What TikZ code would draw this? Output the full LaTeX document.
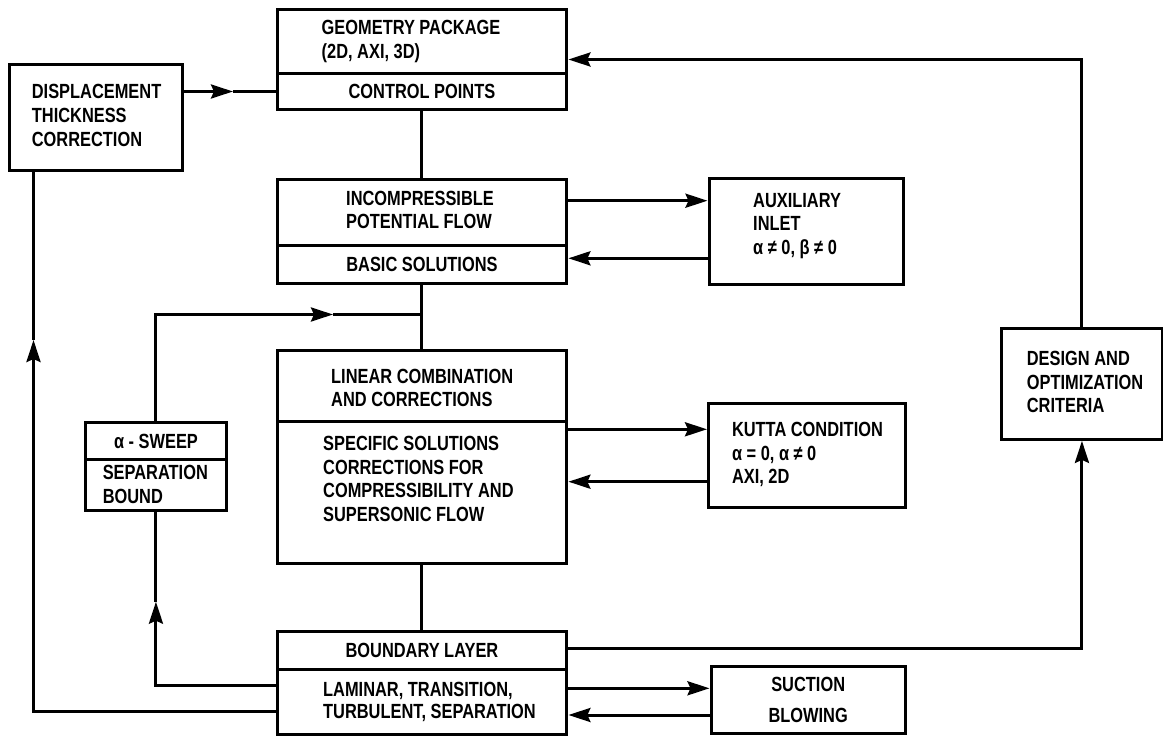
\documentclass[tikz,border=0pt]{standalone}
\usepackage{fontspec}
\newfontfamily\cond{Liberation Sans}[FakeStretch=0.80]
\usetikzlibrary{arrows.meta}
\begin{document}
\begin{tikzpicture}[x=1pt,y=-1pt,
  box/.style={draw, line width=3.4pt, inner sep=0pt, anchor=north west},
  conn/.style={line width=3pt},
  arr/.style={conn, -{Stealth[length=22pt,width=14pt,inset=3pt]}},
  txt/.style={font=\cond\bfseries\fontsize{20.5}{23.7}\selectfont, inner sep=0pt, align=left, anchor=west},
  ctxt/.style={font=\cond\bfseries\fontsize{20.5}{23.7}\selectfont, inner sep=0pt, align=center}]
\useasboundingbox[fill=white] (0,0) rectangle (1163,736);

% boxes
\node[box, minimum width=173pt, minimum height=106pt] (disp) at (8,63) {};
\node[box, minimum width=289.5pt, minimum height=64.5pt] (geomA) at (275.5,7.5) {};
\node[box, minimum width=289.5pt, minimum height=35.5pt] (geomB) at (275.5,72) {};
\node[box, minimum width=289.5pt, minimum height=66.5pt] (incA) at (275.5,177.5) {};
\node[box, minimum width=289.5pt, minimum height=38pt] (incB) at (275.5,244) {};
\node[box, minimum width=194pt, minimum height=106pt] (aux) at (707.5,177) {};
\node[box, minimum width=289.5pt, minimum height=71pt] (linA) at (275.5,349) {};
\node[box, minimum width=289.5pt, minimum height=141.5pt] (linB) at (275.5,420) {};
\node[box, minimum width=196.5pt, minimum height=104pt] (kutta) at (707,402) {};
\node[box, minimum width=161.5pt, minimum height=111pt] (design) at (999.5,326.5) {};
\node[box, minimum width=289.5pt, minimum height=38pt] (blA) at (275.5,630) {};
\node[box, minimum width=289.5pt, minimum height=65pt] (blB) at (275.5,668) {};
\node[box, minimum width=194pt, minimum height=66.5pt] (suction) at (709.5,665) {};
\node[box, minimum width=141.5pt, minimum height=36.5pt] (sweepA) at (83.5,421) {};
\node[box, minimum width=141.5pt, minimum height=51pt] (sweepB) at (83.5,457.5) {};

% texts
\node[txt] (tdisp) at (31.7,115.3) {DISPLACEMENT\\THICKNESS\\CORRECTION};
\node[txt] (tgeom) at (321.5,41.7) {GEOMETRY PACKAGE\\(2D, AXI, 3D)};
\node[ctxt] (tcp) at (geomB.center) {CONTROL POINTS};
\node[txt] (tinc) at (346,210) {INCOMPRESSIBLE\\POTENTIAL FLOW};
\node[ctxt] (tbs) at (incB.center) {BASIC SOLUTIONS};
\node[txt] (taux) at (753,226) {AUXILIARY\\INLET\\α ≠ 0, β ≠ 0};
\node[txt] (tlinA) at (331,388) {LINEAR COMBINATION\\AND CORRECTIONS};
\node[txt] (tlinB) at (323,479) {SPECIFIC SOLUTIONS\\CORRECTIONS FOR\\COMPRESSIBILITY AND\\SUPERSONIC FLOW};
\node[txt] (tkutta) at (731.8,454.7) {KUTTA CONDITION\\α = 0, α ≠ 0\\AXI, 2D};
\node[txt] (tdesign) at (1026.7,382) {DESIGN AND\\OPTIMIZATION\\CRITERIA};
\node[ctxt] (tblA) at (blA.center) {BOUNDARY LAYER};
\node[txt, font=\cond\bfseries\fontsize{20.5}{22}\selectfont] (tblB) at (323,701.7) {LAMINAR, TRANSITION,\\TURBULENT, SEPARATION};
\node[ctxt] (tsuc) at (suction.center) {SUCTION\\[8pt]BLOWING};
\node[ctxt] (tswA) at (sweepA.center) {α - SWEEP};
\node[txt] (tswB) at (102.6,484.7) {SEPARATION\\BOUND};

% helper coordinates
\coordinate (m1) at (233,91.5);
\coordinate (t1) at (design.north |- 0,59.5);
\coordinate (r1) at (0,200.7);
\coordinate (r2) at (0,258.3);
\coordinate (j1) at (geomB.south |- 0,314.5);
\coordinate (m2) at (333,314.5);
\coordinate (r3) at (0,429.3);
\coordinate (r4) at (0,481.7);
\coordinate (r5) at (0,648.3);
\coordinate (r6) at (0,688.3);
\coordinate (r7) at (0,715);
\coordinate (m3) at (sweepB.south |- 0,601.7);
\coordinate (l1) at (0,685.7);
\coordinate (m4) at (33.5,340);
\coordinate (l2) at (0,711.7);

% connectors
\draw[arr] (disp.east |- m1) -- (m1);
\draw[conn] (m1) -- (geomB.west |- m1);
\draw[arr] (design.north) -- (t1) -- (t1 -| geomA.east);
\draw[conn] (geomB.south) -- (incA.north);
\draw[arr] (incA.east |- r1) -- (aux.west |- r1);
\draw[arr] (aux.west |- r2) -- (incB.east |- r2);
\draw[conn] (incB.south) -- (linA.north);
\draw[arr] (sweepA.north) |- (m2);
\draw[conn] (m2) -- (j1);
\draw[arr] (linB.east |- r3) -- (kutta.west |- r3);
\draw[arr] (kutta.west |- r4) -- (linB.east |- r4);
\draw[conn] (linB.south) -- (blA.north);
\draw[arr] (blA.east |- r5) -| (design.south);
\draw[arr] (blB.east |- r6) -- (suction.west |- r6);
\draw[arr] (suction.west |- r7) -- (blB.east |- r7);
\draw[arr] (blB.west |- l1) -| (m3);
\draw[conn] (m3) -- (sweepB.south);
\draw[arr] (blB.west |- l2) -| (m4);
\draw[conn] (m4) -- (m4 |- disp.south);
\end{tikzpicture}
\end{document}
